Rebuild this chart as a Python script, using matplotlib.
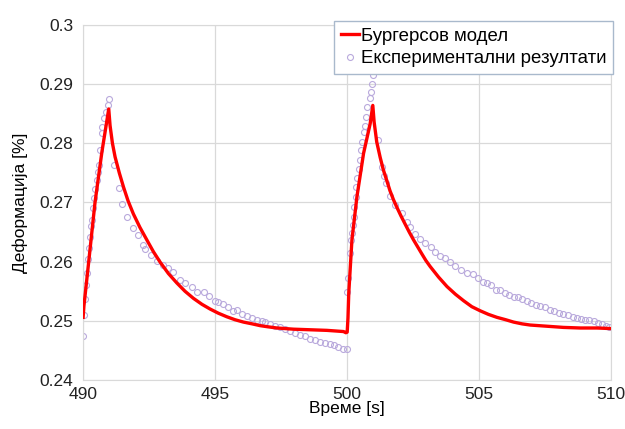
import matplotlib.pyplot as plt

plt.rcParams["font.family"] = ["Liberation Sans", "DejaVu Sans"]

RED = "#ff0000"
PURPLE = "#b9a9dc"
GRID = "#d9d9d9"

# Бургерсов модел
model_t = [490.0, 490.03, 490.2, 490.45, 490.71, 490.97, 491.02, 491.11, 491.21,
           491.37, 491.53, 491.7, 491.9, 492.15, 492.41, 492.66, 492.92, 493.23,
           493.55, 493.86, 494.18, 494.5, 494.81, 495.12, 495.44, 495.75, 496.07,
           496.4, 496.7, 497.0, 497.34, 497.97, 498.6, 499.23, 499.86, 499.95,
           500.0, 500.03, 500.06, 500.18, 500.37, 500.62, 500.87, 500.97, 501.02,
           501.12, 501.25, 501.37, 501.5, 501.62, 501.75, 501.88, 502.04, 502.2,
           502.35, 502.51, 502.67, 502.83, 502.98, 503.14, 503.3, 503.46, 503.62,
           503.78, 504.1, 504.41, 504.72, 505.04, 505.35, 505.67, 506.0, 506.3,
           506.62, 506.93, 507.56, 508.19, 508.83, 509.46, 510.0]
model_v = [0.2506, 0.2525, 0.2595, 0.2700, 0.2785, 0.2858, 0.2830, 0.2800, 0.2777,
           0.2750, 0.2726, 0.2703, 0.2681, 0.2658, 0.2637, 0.2617, 0.2599, 0.2580,
           0.2564, 0.2550, 0.2538, 0.2528, 0.2520, 0.2513, 0.2507, 0.2502, 0.2498,
           0.2495, 0.2492, 0.2490, 0.2488, 0.2486, 0.2485, 0.2484, 0.2482, 0.2480,
           0.2481, 0.2505, 0.2547, 0.2637, 0.2710, 0.2783, 0.2833, 0.2864, 0.2836,
           0.2802, 0.2776, 0.2755, 0.2737, 0.2720, 0.2705, 0.2692, 0.2677, 0.2663,
           0.2650, 0.2637, 0.2625, 0.2613, 0.2602, 0.2592, 0.2583, 0.2574, 0.2566,
           0.2558, 0.2545, 0.2534, 0.2524, 0.2517, 0.2511, 0.2506, 0.2502, 0.2498,
           0.2495, 0.2493, 0.2491, 0.2489, 0.2488, 0.2488, 0.2487]

# Експериментални резултати
exp_t = [489.98, 490.05, 490.08, 490.12, 490.15, 490.18, 490.22, 490.25, 490.30,
         490.34, 490.37, 490.42, 490.46, 490.52, 490.56, 490.59, 490.63, 490.70,
         490.73, 490.78, 490.85, 490.95, 490.97,
         491.17, 491.36, 491.49, 491.68, 491.87, 492.07, 492.28, 492.35, 492.56,
         492.79, 493.02, 493.23, 493.42, 493.67, 493.86, 494.12, 494.33, 494.56,
         494.78, 495.00, 495.09, 495.28, 495.47, 495.66, 495.84, 496.01, 496.20,
         496.39, 496.58, 496.77, 496.89, 497.08, 497.27, 497.46, 497.65, 497.84,
         498.03, 498.22, 498.41, 498.60, 498.79, 498.98, 499.17, 499.36, 499.51,
         499.67, 499.84, 499.99,
         500.01, 500.03, 500.10, 500.14, 500.18, 500.21, 500.24, 500.27, 500.32,
         500.35, 500.39, 500.43, 500.47, 500.52, 500.56, 500.62, 500.66, 500.70,
         500.75, 500.85, 500.90, 500.94, 500.97,
         501.15, 501.31, 501.40, 501.48, 501.63, 501.82, 502.07, 502.26, 502.39,
         502.58, 502.77, 502.95, 503.18, 503.33, 503.52, 503.71, 503.90, 504.09,
         504.32, 504.53, 504.75, 504.95, 505.13, 505.29, 505.45, 505.63, 505.80,
         505.96, 506.14, 506.30, 506.47, 506.62, 506.81, 506.97, 507.15, 507.31,
         507.50, 507.69, 507.85, 508.03, 508.19, 508.38, 508.57, 508.70, 508.86,
         509.02, 509.17, 509.33, 509.50, 509.65, 509.80, 509.92]
exp_v = [0.2475, 0.2510, 0.2537, 0.2561, 0.2581, 0.2604, 0.2623, 0.2642, 0.2660,
         0.2670, 0.2690, 0.2707, 0.2722, 0.2738, 0.2752, 0.2763, 0.2788, 0.2817,
         0.2828, 0.2842, 0.2853, 0.2865, 0.2874,
         0.2763, 0.2724, 0.2698, 0.2676, 0.2657, 0.2645, 0.2628, 0.2621, 0.2611,
         0.2602, 0.2594, 0.2589, 0.2583, 0.2569, 0.2564, 0.2558, 0.2549, 0.2548,
         0.2542, 0.2533, 0.2532, 0.2529, 0.2524, 0.2517, 0.2519, 0.2512, 0.2508,
         0.2505, 0.2502, 0.2500, 0.2498, 0.2495, 0.2492, 0.2489, 0.2486, 0.2483,
         0.2479, 0.2476, 0.2474, 0.2470, 0.2467, 0.2465, 0.2463, 0.2461, 0.2460,
         0.2456, 0.2452, 0.2452,
         0.2548, 0.2572, 0.2614, 0.2637, 0.2648, 0.2662, 0.2676, 0.2693, 0.2710,
         0.2726, 0.2741, 0.2757, 0.2771, 0.2788, 0.2802, 0.2819, 0.2830, 0.2845,
         0.2861, 0.2876, 0.2887, 0.2900, 0.2915,
         0.2805, 0.2760, 0.2744, 0.2733, 0.2711, 0.2696, 0.2683, 0.2667, 0.2658,
         0.2647, 0.2639, 0.2631, 0.2625, 0.2617, 0.2610, 0.2606, 0.2600, 0.2593,
         0.2586, 0.2581, 0.2579, 0.2572, 0.2566, 0.2564, 0.2561, 0.2553, 0.2553,
         0.2547, 0.2544, 0.2541, 0.2540, 0.2537, 0.2534, 0.2531, 0.2527, 0.2525,
         0.2524, 0.2519, 0.2517, 0.2514, 0.2512, 0.2510, 0.2507, 0.2505, 0.2503,
         0.2502, 0.2501, 0.2499, 0.2497, 0.2495, 0.2492, 0.2489]

x_ticks = [490, 495, 500, 505, 510]
y_ticks = [0.24, 0.25, 0.26, 0.27, 0.28, 0.29, 0.30]
y_labels = ["0.24", "0.25", "0.26", "0.27", "0.28", "0.29", "0.3"]

fig = plt.figure(figsize=(6.25, 4.29), dpi=100)
ax = fig.add_axes([0.133, 0.114, 0.845, 0.828])

ax.plot(exp_t, exp_v, linestyle="none", marker="o", ms=4.3, mfc="none",
        mec=PURPLE, mew=0.8, label="Експериментални резултати", zorder=2)
ax.plot(model_t, model_v, color=RED, lw=2.4, label="Бургерсов модел", zorder=3)

ax.set_xlim(490, 510)
ax.set_ylim(0.24, 0.30)
ax.set_xticks(x_ticks)
ax.set_xticklabels([str(v) for v in x_ticks])
ax.set_yticks(y_ticks)
ax.set_yticklabels(y_labels)
ax.tick_params(axis="x", length=0, labelsize=12.5, colors="#222222", pad=5)
ax.tick_params(axis="y", length=0, labelsize=12.5, colors="#222222", pad=7)
ax.grid(True, color=GRID, lw=0.9)
ax.set_axisbelow(True)
for s in ax.spines.values():
    s.set_color(GRID)

ax.set_xlabel("Време [s]", fontsize=12.5, labelpad=-1)
ax.set_ylabel("Деформација [%]", fontsize=12.5, labelpad=8)

handles, labels = ax.get_legend_handles_labels()
leg = ax.legend(handles[::-1], labels[::-1], loc="upper right",
                bbox_to_anchor=(613 / 625, 1 - 21 / 429),
                bbox_transform=fig.transFigure, fontsize=13.4, fancybox=False,
                framealpha=1, edgecolor="#a9b9cc", handlelength=1.0,
                handletextpad=0.1, borderpad=0.35, labelspacing=0.3,
                borderaxespad=0)
leg.get_frame().set_linewidth(1.0)

fig.savefig("out.png", dpi=100)
